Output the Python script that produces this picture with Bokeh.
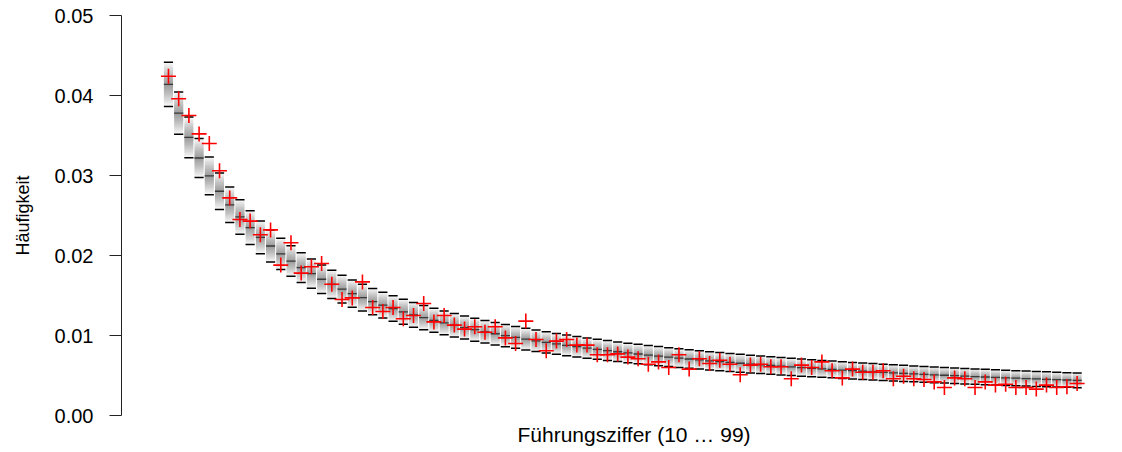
from bokeh.plotting import figure
from bokeh.models import Range1d, FixedTicker, Title
from bokeh.embed import file_html
from bokeh.resources import INLINE

# leading two digits 10..99
digits = list(range(10, 100))

# expected frequency per leading pair (centre dash)
expected = [
    0.041393, 0.037789, 0.034762, 0.032185, 0.029963, 0.028029, 0.026329, 0.024824, 0.023481, 0.022276,
    0.021189, 0.020203, 0.019305, 0.018483, 0.017729, 0.017033, 0.016390, 0.015794, 0.015240, 0.014723,
    0.014240, 0.013788, 0.013364, 0.012965, 0.012589, 0.012234, 0.011899, 0.011582, 0.011281, 0.010995,
    0.010724, 0.010465, 0.010219, 0.009984, 0.009760, 0.009545, 0.009340, 0.009143, 0.008955, 0.008774,
    0.008600, 0.008433, 0.008273, 0.008118, 0.007969, 0.007825, 0.007687, 0.007553, 0.007424, 0.007299,
    0.007179, 0.007062, 0.006949, 0.006839, 0.006733, 0.006631, 0.006531, 0.006434, 0.006340, 0.006249,
    0.006160, 0.006074, 0.005990, 0.005909, 0.005830, 0.005753, 0.005678, 0.005605, 0.005534, 0.005465,
    0.005398, 0.005332, 0.005268, 0.005206, 0.005145, 0.005086, 0.005029, 0.004972, 0.004918, 0.004864,
    0.004812, 0.004761, 0.004712, 0.004663, 0.004616, 0.004570, 0.004525, 0.004480, 0.004437, 0.004395,
]

# half-width of the band between the lower and upper dashes
halfwidth = [
    0.002761, 0.002643, 0.002539, 0.002446, 0.002363, 0.002288, 0.002219, 0.002156, 0.002099, 0.002045,
    0.001996, 0.001950, 0.001907, 0.001867, 0.001829, 0.001793, 0.001760, 0.001728, 0.001698, 0.001669,
    0.001642, 0.001616, 0.001592, 0.001568, 0.001545, 0.001524, 0.001503, 0.001483, 0.001464, 0.001445,
    0.001428, 0.001410, 0.001394, 0.001378, 0.001363, 0.001348, 0.001333, 0.001319, 0.001306, 0.001293,
    0.001280, 0.001267, 0.001255, 0.001244, 0.001232, 0.001221, 0.001211, 0.001200, 0.001190, 0.001180,
    0.001170, 0.001161, 0.001151, 0.001142, 0.001133, 0.001125, 0.001116, 0.001108, 0.001100, 0.001092,
    0.001084, 0.001077, 0.001069, 0.001062, 0.001055, 0.001048, 0.001041, 0.001035, 0.001028, 0.001022,
    0.001016, 0.001009, 0.001003, 0.000997, 0.000992, 0.000986, 0.000980, 0.000975, 0.000970, 0.000964,
    0.000959, 0.000954, 0.000949, 0.000944, 0.000940, 0.000935, 0.000930, 0.000926, 0.000921, 0.000917,
]

# observed frequencies (red crosses)
observed = [
    0.0424, 0.0396, 0.0375, 0.0352, 0.0340, 0.0306, 0.0272, 0.0245, 0.0243, 0.0226,
    0.0232, 0.0188, 0.0216, 0.0178, 0.0186, 0.0190, 0.0164, 0.0145, 0.0147, 0.0167,
    0.0135, 0.0130, 0.0135, 0.0121, 0.0125, 0.0140, 0.0117, 0.0125, 0.0113, 0.0108,
    0.0111, 0.0104, 0.0111, 0.0097, 0.0090, 0.0118, 0.0095, 0.0081, 0.0093, 0.0095,
    0.0088, 0.0088, 0.0076, 0.0076, 0.0077, 0.0073, 0.0071, 0.0064, 0.0067, 0.0060,
    0.0076, 0.0058, 0.0071, 0.0065, 0.0069, 0.0064, 0.0051, 0.0063, 0.0064, 0.0061,
    0.0061, 0.0046, 0.0063, 0.0060, 0.0067, 0.0056, 0.0047, 0.0058, 0.0054, 0.0054,
    0.0056, 0.0046, 0.0049, 0.0046, 0.0045, 0.0042, 0.0035, 0.0047, 0.0046, 0.0035,
    0.0042, 0.0038, 0.0039, 0.0035, 0.0035, 0.0033, 0.0038, 0.0035, 0.0036, 0.0040,
]

y_ticks = [0.0, 0.01, 0.02, 0.03, 0.04, 0.05]
y_tick_labels = ["0.00", "0.01", "0.02", "0.03", "0.04", "0.05"]
x_title = "Führungsziffer (10 … 99)"
y_title = "Häufigkeit"

FONT = "Liberation Sans"
BAR_W = 0.9

p = figure(width=1114, height=450, output_backend="svg", toolbar_location=None,
           x_range=Range1d(5.4, 102.66), y_range=Range1d(0, 0.05),
           min_border_left=121, min_border_right=0, min_border_top=15, min_border_bottom=0)
p.outline_line_color = None
p.grid.visible = False

# shaded band (stacked translucent layers give a soft vertical gradient)
N = 14
for k in range(1, N + 1):
    f = k / N
    p.vbar(x=digits, width=BAR_W,
           top=[e + h * f for e, h in zip(expected, halfwidth)],
           bottom=[e - h * f for e, h in zip(expected, halfwidth)],
           fill_color="black", fill_alpha=0.03, line_color=None)

upper = [e + h for e, h in zip(expected, halfwidth)]
lower = [e - h for e, h in zip(expected, halfwidth)]
x0 = [d - BAR_W / 2 for d in digits]
x1 = [d + BAR_W / 2 for d in digits]

p.segment(x0=x0, x1=x1, y0=upper, y1=upper, line_color="black", line_width=1.5)
p.segment(x0=x0, x1=x1, y0=lower, y1=lower, line_color="black", line_width=1.5)
p.segment(x0=x0, x1=x1, y0=expected, y1=expected, line_color="#3a3a3a", line_width=1.3)

p.scatter(x=digits, y=observed, marker="cross", size=15,
          line_color="red", line_width=1.6)

# y axis
ya = p.yaxis[0]
ya.ticker = FixedTicker(ticks=y_ticks)
ya.major_label_overrides = {t: s for t, s in zip(y_ticks, y_tick_labels)}
ya.minor_tick_line_color = None
ya.axis_line_color = "#222222"
ya.major_tick_line_color = "#222222"
ya.major_tick_out = 12
ya.major_tick_in = 0
ya.major_label_standoff = 16
ya.major_label_text_font = FONT
ya.major_label_text_font_size = "20px"
ya.major_label_text_color = "black"
ya.axis_label = y_title
ya.axis_label_text_font = FONT
ya.axis_label_text_font_size = "18px"
ya.axis_label_text_font_style = "normal"
ya.axis_label_text_color = "black"
ya.axis_label_standoff = 19

# x axis: hidden, only its title under the plot
p.xaxis.visible = False
p.add_layout(Title(text=x_title, align="left", offset=396, standoff=10,
                   text_font=FONT, text_font_size="21px", text_font_style="normal",
                   text_color="black"), "below")

open("out.html", "w").write(file_html(p, INLINE))
